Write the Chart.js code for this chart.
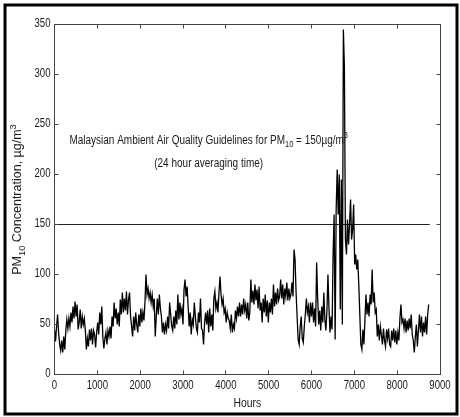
<!DOCTYPE html>
<html lang="en">
<head>
<meta charset="UTF-8">
<title>PM10 Concentration</title>
<script src="https://cdn.jsdelivr.net/npm/chart.js"></script>
<style>
  html, body { margin: 0; padding: 0; background: #fff; }
  canvas { display: block; }
</style>
</head>
<body>
<canvas id="pmChart" width="460" height="417"></canvas>
<script>
// daily readings of the hourly PM10 trace (one value every 24 hours)
const hourStep = 24;
const pm10 = [
  45,33,48,60,42,30,24,34,22,38,
  25,44,55,46,56,48,62,52,68,56,
  73,58,70,45,52,65,46,58,50,56,
  44,25,36,28,45,34,46,30,44,40,
  27,42,52,40,62,50,68,38,26,36,
  42,30,44,38,48,36,58,48,72,56,
  66,50,62,48,75,60,82,62,76,64,
  83,60,75,82,58,48,38,58,44,62,
  50,42,60,48,66,52,62,54,72,100,
  80,86,76,82,72,80,68,76,38,58,
  76,60,80,66,58,42,52,40,50,44,
  58,46,72,60,48,44,58,46,64,50,
  80,55,72,60,66,50,85,95,78,88,
  68,48,62,40,55,50,72,58,46,42,
  62,52,76,46,44,30,52,62,50,64,
  42,66,48,60,44,76,83,66,72,62,
  82,98,80,70,76,62,66,52,62,56,
  54,46,60,42,50,46,64,56,68,58,
  72,58,70,60,76,64,70,56,72,54,
  62,95,72,84,70,90,74,85,66,88,
  64,72,52,76,62,80,58,74,52,72,
  62,76,60,90,68,82,70,86,74,78,
  95,76,90,70,86,78,92,74,86,76,
  80,92,78,125,115,82,58,35,30,48,
  58,36,32,48,60,76,62,68,52,72,
  58,72,52,66,48,112,76,50,64,44,
  68,52,82,55,44,64,100,66,42,58,
  45,120,160,35,165,205,160,200,65,195,
  50,345,308,135,120,155,130,150,175,135,
  145,170,110,120,105,115,90,60,30,25,
  45,30,55,80,60,72,58,80,70,105,
  72,82,62,65,38,50,34,48,40,30,
  46,34,28,45,36,46,30,28,44,34,
  46,32,44,30,42,34,56,70,52,55,
  46,56,42,54,44,56,46,60,40,34,
  22,38,50,28,44,60,42,58,38,52,
  42,58,40,60,70
];

const guideline = 150;
const guideHours = [0, 8760];
const xTicks = [0, 1000, 2000, 3000, 4000, 5000, 6000, 7000, 8000, 9000];
const yTicks = [0, 50, 100, 150, 200, 250, 300, 350];

// where the guideline note sits, in data units
const noteHour = 3600;
const noteValues = [234, 211];

const family = "'Liberation Sans', Arial, sans-serif";
const ink = '#1a1a1a';
const narrow = 0.8; // squeeze to mimic a condensed face

function drawRich(ctx, parts, x, y, size, sx, align) {
  const widths = parts.map(p => {
    ctx.font = (p[1] === 0 ? size : size * 0.75) + 'px ' + family;
    return ctx.measureText(p[0]).width * sx;
  });
  const total = widths.reduce((a, b) => a + b, 0);
  let cx = x;
  if (align === 'center') cx = x - total / 2;
  if (align === 'right') cx = x - total;
  ctx.textBaseline = 'middle';
  ctx.textAlign = 'left';
  parts.forEach((p, i) => {
    ctx.font = (p[1] === 0 ? size : size * 0.75) + 'px ' + family;
    let dy = 0;
    if (p[1] < 0) dy = size * 0.35;
    if (p[1] > 0) dy = -size * 0.4;
    ctx.save();
    ctx.translate(cx, y + dy);
    ctx.scale(sx, 1);
    ctx.fillText(p[0], 0, 0);
    ctx.restore();
    cx += widths[i];
  });
}

const framePlugin = {
  id: 'frame',
  afterDraw(chart) {
    const { ctx, chartArea: a, scales: { x, y } } = chart;
    ctx.save();

    // axes box
    ctx.strokeStyle = '#444';
    ctx.lineWidth = 1;
    const left = Math.floor(a.left) + 0.5, right = Math.floor(a.right) + 0.5;
    const top = Math.floor(a.top) + 0.5, bottom = Math.floor(a.bottom) + 0.5;
    ctx.strokeRect(left, top, right - left, bottom - top);

    // inward ticks on all four sides
    ctx.beginPath();
    xTicks.forEach(v => {
      const px = Math.floor(x.getPixelForValue(v)) + 0.5;
      ctx.moveTo(px, bottom); ctx.lineTo(px, bottom - 4);
      ctx.moveTo(px, top); ctx.lineTo(px, top + 4);
    });
    yTicks.forEach(v => {
      const py = Math.floor(y.getPixelForValue(v)) + 0.5;
      ctx.moveTo(left, py); ctx.lineTo(left + 4, py);
      ctx.moveTo(right, py); ctx.lineTo(right - 4, py);
    });
    ctx.stroke();

    // tick labels
    ctx.fillStyle = ink;
    xTicks.forEach(v => {
      drawRich(ctx, [[String(v), 0]], x.getPixelForValue(v), bottom + 11, 12, narrow, 'center');
    });
    yTicks.forEach(v => {
      drawRich(ctx, [[String(v), 0]], left - 4, y.getPixelForValue(v) - 1, 12, narrow, 'right');
    });

    // guideline note
    const nx = x.getPixelForValue(noteHour);
    drawRich(ctx, [['Malaysian Ambient Air Quality Guidelines for PM', 0], ['10', -1],
      [' = 150\u00b5g/m', 0], ['3', 1]], nx, y.getPixelForValue(noteValues[0]), 12.5, narrow, 'center');
    drawRich(ctx, [['(24 hour averaging time)', 0]], nx, y.getPixelForValue(noteValues[1]), 12.5, narrow, 'center');

    // axis titles
    drawRich(ctx, [['Hours', 0]], (a.left + a.right) / 2, 403, 13, narrow, 'center');
    ctx.save();
    ctx.translate(18, (a.top + a.bottom) / 2);
    ctx.rotate(-Math.PI / 2);
    drawRich(ctx, [['PM', 0], ['10', -1], [' Concentration, \u00b5g/m', 0], ['3', 1]], 0, 0, 12.5, 1, 'center');
    ctx.restore();

    // outer picture frame
    ctx.strokeStyle = '#000';
    ctx.lineWidth = 3;
    ctx.strokeRect(5, 5, 452, 409);
    ctx.restore();
  }
};

const ctx = document.getElementById('pmChart').getContext('2d');
const pmChart = new Chart(ctx, {
  type: 'line',
  data: {
    datasets: [
      {
        label: 'PM10',
        data: pm10.map((v, i) => ({ x: i * hourStep, y: v })),
        borderColor: '#000',
        borderWidth: 1.3,
        pointRadius: 0,
        tension: 0,
        fill: false
      },
      {
        label: 'Guideline',
        data: guideHours.map(h => ({ x: h, y: guideline })),
        borderColor: '#222',
        borderWidth: 1,
        pointRadius: 0,
        fill: false
      }
    ]
  },
  options: {
    responsive: false,
    animation: false,
    events: [],
    layout: { padding: { left: 0.5, top: 24.5, right: 20, bottom: 0 } },
    plugins: { legend: { display: false }, tooltip: { enabled: false } },
    scales: {
      x: {
        type: 'linear',
        min: 0,
        max: 9000,
        afterBuildTicks: s => { s.ticks = xTicks.map(v => ({ value: v })); },
        afterFit: s => { s.height = 42.5; },
        grid: { display: false },
        border: { display: false },
        ticks: { display: false }
      },
      y: {
        type: 'linear',
        min: 0,
        max: 350,
        afterBuildTicks: s => { s.ticks = yTicks.map(v => ({ value: v })); },
        afterFit: s => { s.width = 54; },
        grid: { display: false },
        border: { display: false },
        ticks: { display: false }
      }
    }
  },
  plugins: [framePlugin]
});
</script>
</body>
</html>
